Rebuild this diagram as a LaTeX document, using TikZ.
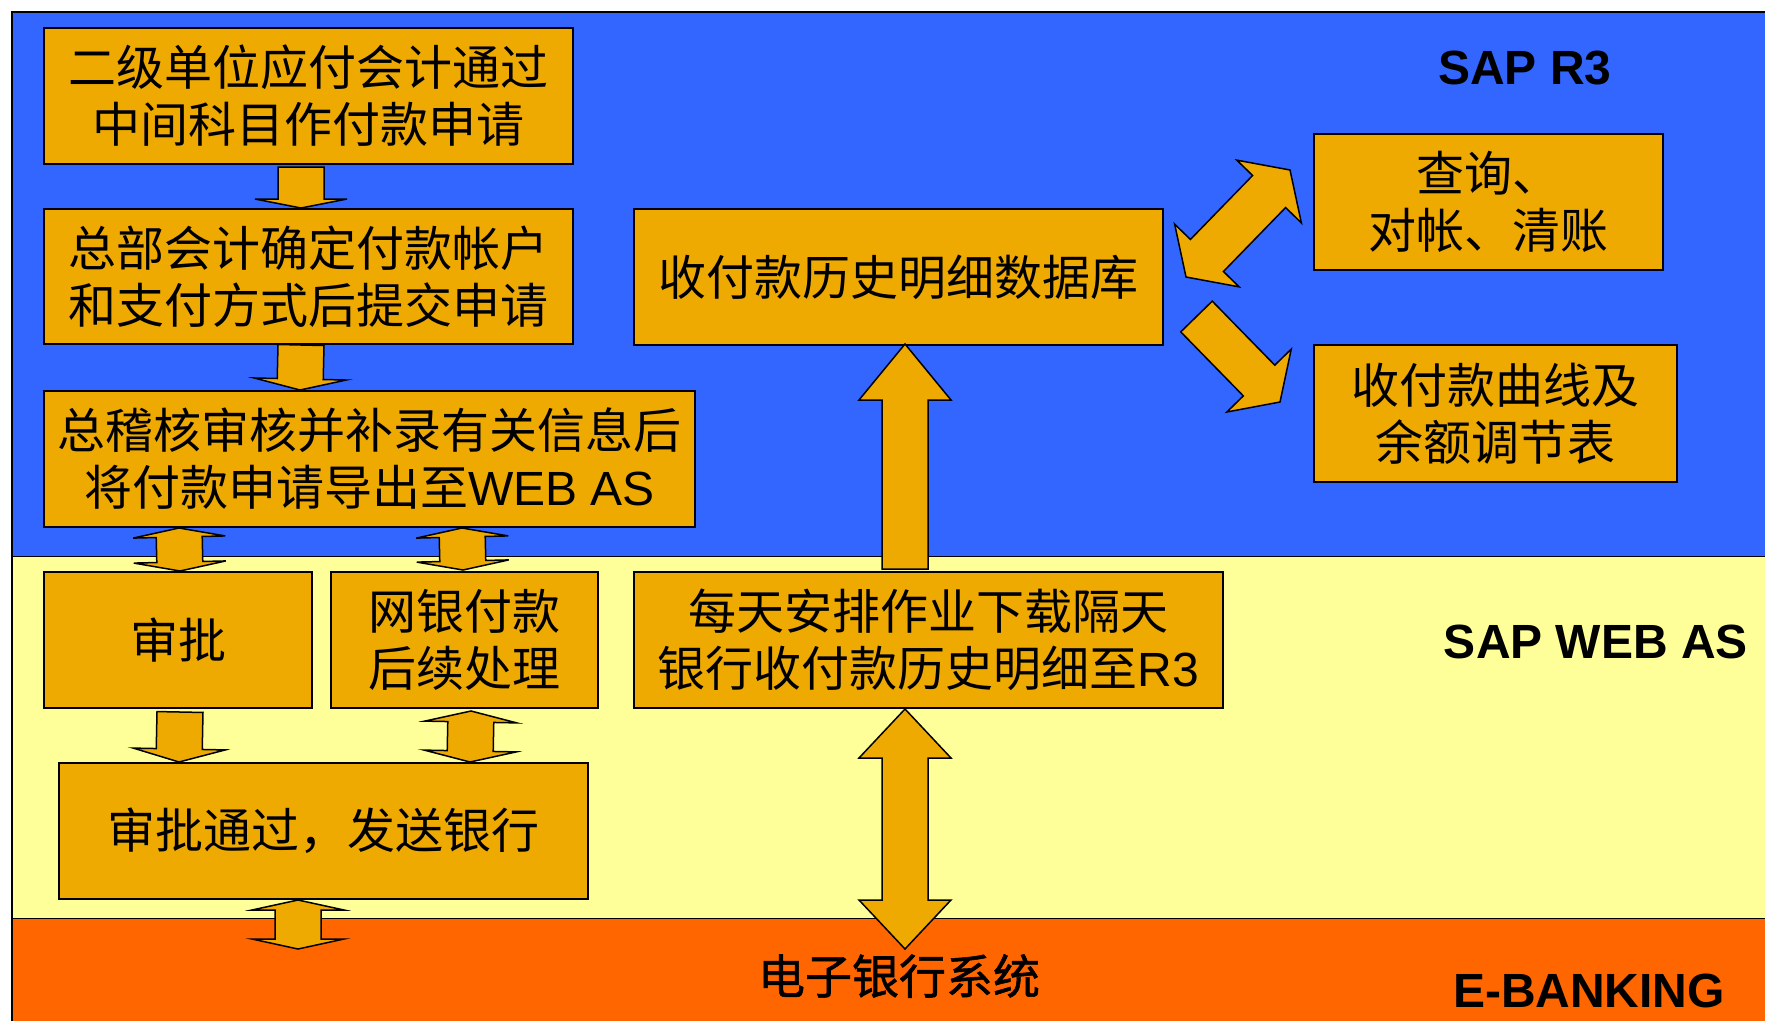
\documentclass[tikz,border=0pt]{standalone}
\usepackage{fontspec}
\setmainfont{Liberation Sans}
\newfontfamily\cjk{Noto Sans CJK SC}
\newfontfamily\cjkh[FakeBold=1.2]{Noto Sans CJK SC}
\usetikzlibrary{calc}
\definecolor{sapblue}{RGB}{51,102,255}
\definecolor{webyellow}{RGB}{255,255,153}
\definecolor{bankorange}{RGB}{255,102,0}
\definecolor{boxgold}{RGB}{238,170,0}
\tikzset{
  box/.style={draw=black, line width=2pt, fill=boxgold, anchor=north west,
    align=center, inner sep=0pt, font=\cjk\fontsize{48}{57}\selectfont},
  blockarrow/.style={draw=black, line width=1.5pt, fill=boxgold, line join=miter},
  zoneline/.style={draw=black, line width=1.6pt},
  zonelabel/.style={font=\bfseries\fontsize{48}{57}\selectfont, anchor=base, inner sep=0pt}
}
% single block arrow: start, end, half shaft, half head, head length
\newcommand\sarrow[5]{%
  \coordinate (tmpH) at ($(#2)!#5!(#1)$);
  \draw[blockarrow] ($(#1)!#3!90:(#2)$) -- ($(tmpH)!#3!90:(#2)$) -- ($(tmpH)!#4!90:(#2)$)
    -- (#2) -- ($(tmpH)!#4!-90:(#2)$) -- ($(tmpH)!#3!-90:(#2)$) -- ($(#1)!#3!-90:(#2)$) -- cycle;
}
% double block arrow
\newcommand\darrow[5]{%
  \coordinate (tmpH) at ($(#2)!#5!(#1)$);
  \coordinate (tmpG) at ($(#1)!#5!(#2)$);
  \draw[blockarrow] ($(tmpG)!#3!90:(#2)$) -- ($(tmpH)!#3!90:(#2)$) -- ($(tmpH)!#4!90:(#2)$)
    -- (#2) -- ($(tmpH)!#4!-90:(#2)$) -- ($(tmpH)!#3!-90:(#2)$) -- ($(tmpG)!#3!-90:(#2)$)
    -- ($(tmpG)!#4!-90:(#2)$) -- (#1) -- ($(tmpG)!#4!90:(#2)$) -- cycle;
}
\begin{document}
\begin{tikzpicture}[x=1pt,y=-1pt]
\useasboundingbox (0,0) rectangle (1765,1021);
\fill[white] (0,0) rectangle (1765,1021);
% zones
\fill[sapblue] (12,12) rectangle (1765,556.5);
\fill[webyellow] (12,556.5) rectangle (1765,918.3);
\fill[bankorange] (12,918.3) rectangle (1765,1021);
\draw[zoneline] (12,1021) -- (12,12) -- (1765,12);
\draw[zoneline] (12,556.5) -- (1765,556.5);
\draw[zoneline] (12,918.3) -- (1765,918.3);

% zone labels
\node[zonelabel] (lr3) at (1525,84) {SAP R3};
\node[zonelabel] (lweb) at (1596,658) {SAP WEB AS};
\node[zonelabel] (lbank) at (1589,1007) {E-BANKING};
\node[font=\cjkh\fontsize{47}{50}\selectfont, inner sep=0pt] (ebank) at (899,976) {电子银行系统};

% boxes
\node[box, minimum width=529pt, minimum height=136pt] (B1) at (43,27) {二级单位应付会计通过\\中间科目作付款申请};
\node[box, minimum width=529pt, minimum height=135pt] (B2) at (43,208) {总部会计确定付款帐户\\和支付方式后提交申请};
\node[box, minimum width=651pt, minimum height=136pt] (B3) at (43,390) {总稽核审核并补录有关信息后\\将付款申请导出至{\rmfamily WEB AS}};
\node[box, minimum width=529pt, minimum height=136pt] (DB) at (633,208) {收付款历史明细数据库};
\node[box, minimum width=349pt, minimum height=136pt] (Q) at (1313,133) {查询、\\对帐、清账};
\node[box, minimum width=363pt, minimum height=137pt] (C) at (1313,344) {收付款曲线及\\余额调节表};
\node[box, minimum width=268pt, minimum height=136pt] (SP) at (43,571) {审批};
\node[box, minimum width=267pt, minimum height=136pt] (WY) at (330,571) {网银付款\\后续处理};
\node[box, minimum width=589pt, minimum height=136pt] (MT) at (633,571) {每天安排作业下载隔天\\银行收付款历史明细至{\rmfamily R3}};
\node[box, minimum width=529pt, minimum height=136pt] (AP) at (58,762) {审批通过，发送银行};

% arrow end points
\coordinate (a1s) at ($(B1.south)+(-7.5,2)$);
\coordinate (a1e) at ($(B2.north)+(-7.5,0)$);
\coordinate (a2s) at ($(B2.south)+(-7.5,0)$);
\coordinate (a2e) at ($(B3.north west)+(257,0)$);
\coordinate (d1s) at ($(B3.south west)+(136,0)$);
\coordinate (d1e) at ($(SP.north)+(2,0)$);
\coordinate (d2s) at ($(B3.south west)+(419,0)$);
\coordinate (d2e) at ($(WY.north)+(-1.5,-1)$);
\coordinate (a3s) at ($(SP.south)+(2,3)$);
\coordinate (a3e) at ($(AP.north west)+(121,0)$);
\coordinate (d3s) at ($(WY.south)+(6.5,2)$);
\coordinate (d3e) at ($(AP.north west)+(412,0)$);
\coordinate (d4s) at ($(AP.south west)+(240,0)$);
\coordinate (ebk1) at (298,949);
\coordinate (ups) at ($(MT.north west)+(272,-2)$);
\coordinate (upe) at ($(DB.south west)+(272,-2)$);
\coordinate (d5s) at ($(MT.south west)+(272,0)$);
\coordinate (ebk2) at (905,949);
\coordinate (dqs) at ($(DB.north east)+(22,69)$);
\coordinate (dqe) at ($(Q.north west)+(-23,37)$);
\coordinate (dcs) at ($(DB.north east)+(32.5,108.5)$);
\coordinate (dce) at ($(C.north west)+(-33,58)$);

% arrows
\sarrow{a1s}{a1e}{23pt}{46pt}{9pt}
\sarrow{a2s}{a2e}{23pt}{46pt}{11pt}
\darrow{d1s}{d1e}{23pt}{46pt}{9pt}
\darrow{d2s}{d2e}{23pt}{46pt}{9pt}
\sarrow{a3s}{a3e}{23pt}{46pt}{13pt}
\darrow{d3s}{d3e}{23pt}{46pt}{11pt}
\darrow{d4s}{ebk1}{23pt}{46pt}{10pt}
\sarrow{ups}{upe}{23pt}{46pt}{56pt}
\darrow{d5s}{ebk2}{23pt}{46pt}{49pt}
\darrow{dqs}{dqe}{23pt}{45pt}{30pt}
\sarrow{dcs}{dce}{22pt}{45pt}{30pt}
\end{tikzpicture}
\end{document}
